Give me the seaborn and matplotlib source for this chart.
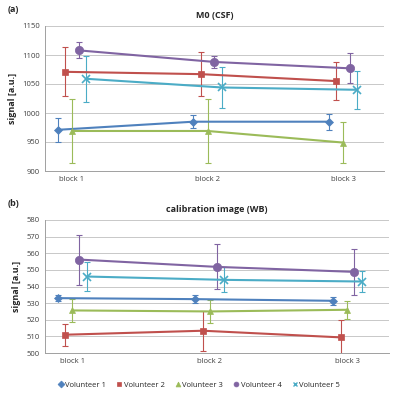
import numpy as np
import pandas as pd
import seaborn as sns
from matplotlib import pyplot as plt
from matplotlib.lines import Line2D

blocks = ["block 1", "block 2", "block 3"]
volunteers = ["Volunteer 1", "Volunteer 2", "Volunteer 3", "Volunteer 4", "Volunteer 5"]

# M0 (CSF): mean and error per volunteer, per block
m0_mean = {
    "Volunteer 1": [971, 985, 985],
    "Volunteer 2": [1071, 1067, 1055],
    "Volunteer 3": [969, 969, 949],
    "Volunteer 4": [1108, 1088, 1077],
    "Volunteer 5": [1059, 1044, 1040],
}
m0_err = {
    "Volunteer 1": [21, 11, 14],
    "Volunteer 2": [42, 38, 33],
    "Volunteer 3": [55, 56, 35],
    "Volunteer 4": [14, 10, 26],
    "Volunteer 5": [40, 35, 33],
}

# calibration image (WB)
wb_mean = {
    "Volunteer 1": [533, 532.4, 531.4],
    "Volunteer 2": [511, 513.4, 509.4],
    "Volunteer 3": [525.6, 525, 526],
    "Volunteer 4": [556.2, 551.8, 548.8],
    "Volunteer 5": [546, 544, 543],
}
wb_err = {
    "Volunteer 1": [2, 2.5, 2.5],
    "Volunteer 2": [6.6, 12, 10.5],
    "Volunteer 3": [7, 7, 5.5],
    "Volunteer 4": [15, 13.5, 14],
    "Volunteer 5": [8.5, 7.5, 6.5],
}

colors = ["#4F81BD", "#C0504D", "#9BBB59", "#8064A2", "#4BACC6"]
markers = ["D", "s", "^", "o", "x"]
marker_sizes = [4, 5, 5, 6, 6]
offsets = [-0.105, -0.05, 0.0, 0.05, 0.105]


def to_frame(means: dict, errs: dict) -> pd.DataFrame:
    rows = []
    for i, v in enumerate(volunteers):
        for b in range(len(blocks)):
            rows.append(
                {
                    "volunteer": v,
                    "x": b + 1 + offsets[i],
                    "signal": means[v][b],
                    "err": errs[v][b],
                }
            )
    return pd.DataFrame(rows)


def draw_panel(ax, df, title, ylim, step):
    for i, v in enumerate(volunteers):
        sub = df[df["volunteer"] == v]
        ax.errorbar(
            sub["x"], sub["signal"], yerr=sub["err"], fmt="none",
            ecolor=colors[i], elinewidth=0.8, capsize=2, capthick=0.8, zorder=2,
        )
        sns.lineplot(
            data=sub, x="x", y="signal", ax=ax, color=colors[i],
            marker=markers[i], markersize=marker_sizes[i], linewidth=1.5,
            markeredgecolor=colors[i], markeredgewidth=1.2 if markers[i] == "x" else 0.5,
            legend=False, zorder=3,
        )
    ax.set_xlim(0.8, 3.3)
    ax.set_ylim(*ylim)
    ax.set_yticks(np.arange(ylim[0], ylim[1] + 1, step))
    ax.set_xticks([1, 2, 3])
    ax.set_xticklabels(blocks)
    ax.set_xlabel("")
    ax.set_ylabel("signal [a.u.]", fontsize=6.5, fontweight="bold")
    ax.set_title(title, fontsize=6.5, fontweight="bold", pad=6)
    ax.grid(axis="y", color="#c8c8c8", linewidth=0.7)
    ax.grid(axis="x", visible=False)
    ax.tick_params(axis="both", labelsize=5.5, length=0, colors="#404040")
    for s in ["top", "right"]:
        ax.spines[s].set_visible(False)
    for s in ["left", "bottom"]:
        ax.spines[s].set_color("#a0a0a0")
        ax.spines[s].set_linewidth(0.7)


sns.set_theme(style="white")
plt.rcParams["font.family"] = ["Open Sans", "DejaVu Sans"]

fig = plt.figure(figsize=(3.97, 4.0), dpi=100)
ax1 = fig.add_axes([0.113, 0.5725, 0.854, 0.3625])
ax2 = fig.add_axes([0.113, 0.1175, 0.866, 0.3325])

draw_panel(ax1, to_frame(m0_mean, m0_err), "M0 (CSF)", (900, 1150), 50)
draw_panel(ax2, to_frame(wb_mean, wb_err), "calibration image (WB)", (500, 580), 10)

fig.text(0.02, 0.975, "(a)", fontsize=6.5, fontweight="bold", va="center")
fig.text(0.02, 0.49, "(b)", fontsize=6.5, fontweight="bold", va="center")

handles = [
    Line2D([], [], linestyle="none", marker=markers[i], color=colors[i],
           markersize=3.5, markeredgewidth=1 if markers[i] == "x" else 0.5)
    for i in range(len(volunteers))
]
fig.legend(handles, volunteers, loc="center", bbox_to_anchor=(0.5, 0.037),
           ncol=5, frameon=False, fontsize=5.5, handletextpad=0.1,
           columnspacing=1.2, handlelength=1)

fig.savefig("out.png", dpi=100)
